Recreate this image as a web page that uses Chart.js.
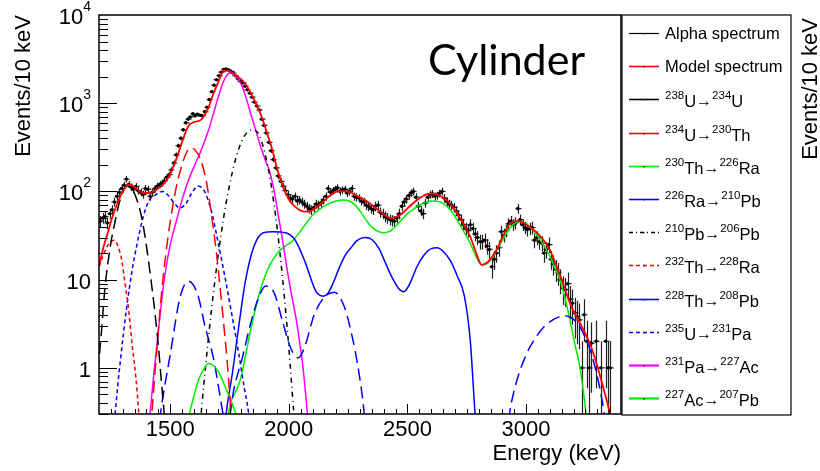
<!DOCTYPE html>
<html>
<head>
<meta charset="utf-8">
<title>Cylinder alpha spectrum</title>
<script src="https://cdn.jsdelivr.net/npm/chart.js@4.4.1/dist/chart.umd.min.js"></script>
<style>
  html, body { margin: 0; padding: 0; background: #fff; }
  canvas { display: block; }
</style>
</head>
<body>
<canvas id="spectrum" width="820" height="471"></canvas>
<script>
// measured spectrum: 10 keV bins, first bin centred at 1205 keV
const binStart = 1205;
const binWidth = 10;
const alphaCounts = [
  46, 50, 52, 44, 56, 62, 76, 88, 98, 108,
  118, 138, 120, 112, 106, 114, 102, 98, 92, 108,
  106, 88, 98, 108, 115, 120, 124, 132, 145, 155,
  175, 210, 260, 330, 400, 500, 600, 660, 700, 760,
  720, 750, 730, 720, 800, 900, 1100, 1350, 1600, 1850,
  2050, 2250, 2420, 2450, 2380, 2300, 2200, 2050, 1900, 1780,
  1700, 1560, 1420, 1300, 1170, 1030, 930, 840, 660, 560,
  460, 360, 290, 230, 185, 150, 130, 115, 102, 92,
  84, 82, 88, 78, 80, 76, 72, 68, 64, 62,
  66, 72, 70, 74, 80, 88, 108, 98, 102, 106,
  110, 100, 104, 106, 96, 100, 108, 88, 86, 84,
  78, 76, 70, 68, 64, 62, 68, 70, 58, 56,
  52, 50, 48, 47, 46, 50, 56, 68, 76, 82,
  90, 96, 100, 86, 68, 60, 56, 74, 86, 92,
  94, 88, 90, 95, 100, 84, 77, 72, 70, 66,
  60, 54, 48, 42, 38, 36, 42, 38, 33, 30,
  27, 27, 28, 24, 22, 14, 17, 20, 23, 35,
  32, 36, 43, 46, 42, 44, 64, 48, 42, 39,
  37, 38, 39, 28, 30, 27, 26, 20, 22, 25,
  17, 15, 13, 12, 10, 8, 7.7, 9, 6, 5.4,
  4.2, 3.8, 3.5, 1, 4, 2, 1, 1.9, null, 2,
  null, 1, null, 2, 1, 1
];

// fitted model and decay-chain components (keV, events / 10 keV)
const modelE = [1200, 1220, 1237, 1255, 1278, 1300, 1325, 1350, 1370, 1386,
  1410, 1440, 1468, 1490, 1508, 1530, 1549, 1576, 1600, 1631,
  1658, 1685, 1705, 1719, 1740, 1758, 1785, 1813, 1840, 1867,
  1890, 1908, 1930, 1948, 1975, 2003, 2030, 2055, 2085, 2110,
  2139, 2170, 2207, 2235, 2258, 2290, 2320, 2345, 2375, 2400,
  2425, 2450, 2480, 2510, 2540, 2570, 2595, 2625, 2651, 2680,
  2708, 2735, 2764, 2790, 2813, 2840, 2876, 2905, 2932, 2965,
  2995, 3030, 3060, 3100, 3125, 3150, 3190, 3220, 3245, 3275,
  3300, 3325, 3350, 3365];
const modelY = [14, 24, 34, 50, 74, 100, 119, 112, 101, 96,
  96, 104, 119, 140, 177, 250, 355, 548, 610, 653,
  850, 1350, 1800, 2214, 2350, 2250, 2000, 1706, 1300, 925,
  650, 461, 300, 192, 115, 79, 66, 60, 59, 64,
  74, 88, 100, 101, 98, 88, 80, 72, 62, 55,
  50, 51, 57, 68, 80, 90, 95, 92, 85, 72,
  57, 43, 31, 20, 14.7, 16, 21.8, 32, 43, 46,
  43, 37, 31, 21.8, 15, 10, 5, 3.5, 2.6, 1.7,
  1.05, 0.6, 0.33, 0.2];

const u238E = [1195, 1210, 1225, 1250, 1265, 1290, 1320, 1345, 1360, 1375, 1390, 1400, 1420, 1435, 1450, 1462, 1475, 1488];
const u238Y = [0.9, 2.5, 8, 26, 42, 82, 115, 100, 80, 58, 36, 24, 9.5, 4.4, 1.8, 0.75, 0.3, 0.1];

const u234E = [1405, 1420, 1440, 1460, 1480, 1500, 1525, 1550, 1570, 1588, 1605, 1625, 1650, 1670, 1695, 1720, 1740, 1757, 1770];
const u234Y = [0.08, 0.25, 1.2, 5.5, 18, 45, 110, 200, 280, 312, 295, 240, 140, 65, 20, 4.5, 1.2, 0.3, 0.1];

const th230E = [1565, 1581, 1600, 1622, 1645, 1662, 1685, 1709, 1735, 1757, 1780, 1800];
const th230Y = [0.18, 0.3, 0.48, 0.76, 1.0, 1.12, 1.05, 0.85, 0.58, 0.42, 0.28, 0.17];

const ra226E = [1720, 1736, 1763, 1790, 1817, 1851, 1892, 1932, 1986, 2027,
  2068, 2115, 2145, 2165, 2190, 2212, 2238, 2262, 2290, 2322,
  2350, 2378, 2405, 2432, 2462, 2485, 2510, 2540, 2570, 2600,
  2625, 2650, 2680, 2710, 2740, 2765, 2785, 2800];
const ra226Y = [0.1, 0.3, 0.9, 3.1, 9.6, 23, 34, 35, 34, 28,
  16, 7.3, 6.5, 7, 9.6, 13.5, 19, 23, 28, 30,
  28.5, 23, 16, 11, 8, 7.3, 9, 14, 19, 22.5,
  23, 21, 16.5, 11, 6.5, 2, 0.3, 0.1];

const pb210E = [1620, 1650, 1675, 1700, 1725, 1750, 1775, 1800, 1825, 1845, 1870, 1900, 1925, 1950, 1975, 2000, 2020];
const pb210Y = [0.15, 1.1, 4.8, 17, 50, 117, 229, 363, 470, 500, 460, 266, 120, 40, 9.5, 1.7, 0.33];

const th232E = [1200, 1215, 1235, 1250, 1265, 1280, 1295, 1310, 1325, 1340, 1355, 1368, 1380];
const th232Y = [14, 18, 24, 27, 28, 24, 17, 9, 4.5, 1.8, 0.8, 0.3, 0.1];

const th228E = [1440, 1459, 1500, 1541, 1577, 1615, 1649, 1682, 1709, 1723,
  1740, 1770, 1804, 1838, 1872, 1903, 1939, 1973, 2007, 2040,
  2066, 2107, 2147, 2192, 2233, 2265, 2295, 2318, 2332, 2600,
  2910, 2930, 2960, 3000, 3040, 3080, 3120, 3160, 3190, 3220,
  3250, 3280, 3310, 3330, 3345];
const th228Y = [0.1, 0.3, 1.4, 6.2, 9.6, 6.9, 2.8, 1.3, 0.5, 0.3,
  0.22, 0.6, 1.3, 3.1, 6.2, 8.5, 7.0, 3.4, 1.7, 1.3,
  1.7, 4.0, 6.2, 7.2, 5, 2.4, 0.9, 0.3, 0.1, null,
  0.1, 0.3, 0.7, 1.4, 2.2, 3.0, 3.6, 3.9, 3.7, 3.1,
  2.2, 1.3, 0.6, 0.3, 0.15];

const u235E = [1255, 1268, 1290, 1315, 1340, 1360, 1385, 1410, 1440, 1468, 1495, 1520, 1540,
  1565, 1590, 1617, 1645, 1675, 1700, 1730, 1760, 1790, 1812, 1831, 1845];
const u235Y = [0.1, 0.3, 1.2, 4.5, 13, 25, 50, 78, 92, 100, 88, 72, 65,
  72, 95, 115, 100, 58, 28, 11, 4, 1.4, 0.6, 0.3, 0.12];

const pa231E = [1400, 1415, 1430, 1450, 1475, 1500, 1525, 1550, 1575, 1600, 1630, 1660,
  1690, 1715, 1735, 1752, 1775, 1800, 1820, 1840, 1860, 1880, 1900, 1920,
  1940, 1955, 1970, 1985, 2000, 2015, 2030, 2045, 2060, 2075, 2090];
const pa231Y = [0.1, 0.3, 0.8, 2.6, 10, 25, 45, 80, 130, 190, 290, 480,
  900, 1500, 2000, 2200, 2050, 1630, 1150, 750, 500, 330, 230, 165,
  95, 55, 32, 18, 10, 6, 3.7, 2, 1.0, 0.38, 0.13];

const ac227E = [1730, 1745, 1757, 1778, 1797, 1818, 1838, 1858, 1878, 1900,
  1919, 1940, 1959, 1985, 2013, 2054, 2095, 2130, 2160, 2200,
  2230, 2255, 2280, 2310, 2340, 2370, 2400, 2430, 2460, 2500,
  2540, 2570, 2600, 2630, 2655, 2680, 2708, 2735, 2764, 2790,
  2813, 2840, 2862, 2890, 2918, 2945, 2972, 3000, 3030, 3060,
  3100, 3125, 3143, 3165, 3185, 3205, 3227, 3243, 3260];
const ac227Y = [0.2, 0.3, 0.42, 0.55, 0.76, 1.4, 2.6, 4.5, 7.3, 11,
  14.5, 18, 21, 24, 27, 37, 52, 63, 71, 78,
  80, 78, 70, 55, 42, 36, 34, 36, 43, 56,
  67, 74, 78, 77, 72, 62, 48, 36, 26, 18,
  14.7, 15.5, 18.5, 25, 34, 42, 45.5, 43, 36, 28,
  18.5, 13, 10, 6, 3.5, 1.9, 1.0, 0.5, 0.2];

const xTickValues = [1500, 2000, 2500, 3000];
const yTickValues = [1, 10, 100, 1000, 10000];
// [base, exponent] as printed on the axis
const yTickLabels = [['1', ''], ['10', ''], ['10', '2'], ['10', '3'], ['10', '4']];

const FONT = "'Liberation Sans', Arial, Helvetica, sans-serif";

const pts = (xs, ys) => xs.map((x, i) => ({ x, y: ys[i] }));
const alphaPoints = alphaCounts.map((c, i) => ({ x: binStart + i * binWidth, y: c }));

// legend order; dash = plot style, key = legend style, iso = [mass, element] pairs
const series = [
  { label: 'Model spectrum', data: pts(modelE, modelY), color: '#ff0000', width: 1.8, dash: [], key: [] },
  { label: '²³⁸U→²³⁴U', iso: [['238', 'U'], ['234', 'U']], data: pts(u238E, u238Y), color: '#000000', dash: [12, 6], key: [] },
  { label: '²³⁴U→²³⁰Th', iso: [['234', 'U'], ['230', 'Th']], data: pts(u234E, u234Y), color: '#ff0000', dash: [12, 6], key: [] },
  { label: '²³⁰Th→²²⁶Ra', iso: [['230', 'Th'], ['226', 'Ra']], data: pts(th230E, th230Y), color: '#00ee00', dash: [], key: [] },
  { label: '²²⁶Ra→²¹⁰Pb', iso: [['226', 'Ra'], ['210', 'Pb']], data: pts(ra226E, ra226Y), color: '#0000ff', dash: [], key: [] },
  { label: '²¹⁰Pb→²⁰⁶Pb', iso: [['210', 'Pb'], ['206', 'Pb']], data: pts(pb210E, pb210Y), color: '#000000', dash: [5, 4, 1, 4], key: [4, 3, 1, 3] },
  { label: '²³²Th→²²⁸Ra', iso: [['232', 'Th'], ['228', 'Ra']], data: pts(th232E, th232Y), color: '#ff0000', dash: [4, 3], key: [4, 3] },
  { label: '²²⁸Th→²⁰⁸Pb', iso: [['228', 'Th'], ['208', 'Pb']], data: pts(th228E, th228Y), color: '#0000ff', dash: [12, 6], key: [] },
  { label: '²³⁵U→²³¹Pa', iso: [['235', 'U'], ['231', 'Pa']], data: pts(u235E, u235Y), color: '#0000ff', dash: [4, 3], key: [4, 3] },
  { label: '²³¹Pa→²²⁷Ac', iso: [['231', 'Pa'], ['227', 'Ac']], data: pts(pa231E, pa231Y), color: '#ff00ff', dash: [], key: [], keyWidth: 2.2 },
  { label: '²²⁷Ac→²⁰⁷Pb', iso: [['227', 'Ac'], ['207', 'Pb']], data: pts(ac227E, ac227Y), color: '#00ee00', dash: [], key: [], keyWidth: 2.2 },
];

const legendItems = [{ label: 'Alpha spectrum', color: '#000000', key: [], keyWidth: 1.2 }].concat(series);

const datasets = series.map(s => ({
  label: s.label,
  data: s.data,
  borderColor: s.color,
  borderWidth: s.width || 1.5,
  borderDash: s.dash,
  pointRadius: 0,
  fill: false,
  spanGaps: false,
  cubicInterpolationMode: 'monotone',
}));
datasets.push({
  label: 'Alpha spectrum',
  data: alphaPoints,
  showLine: false,
  pointRadius: 1.7,
  pointBorderWidth: 0,
  pointBackgroundColor: '#000',
});

// sqrt(N) error bars under the data markers
const errorBars = {
  id: 'errorBars',
  beforeDatasetsDraw(chart) {
    const { ctx, chartArea: a, scales: { x, y } } = chart;
    ctx.save();
    ctx.beginPath();
    ctx.rect(a.left, a.top, a.width, a.height);
    ctx.clip();
    ctx.strokeStyle = '#222';
    ctx.lineWidth = 1.2;
    alphaPoints.forEach(p => {
      if (p.y == null) return;
      const err = Math.sqrt(p.y);
      const px = Math.round(x.getPixelForValue(p.x)) + 0.5;
      const lo = p.y - err > y.min ? y.getPixelForValue(p.y - err) : a.bottom;
      const hi = y.getPixelForValue(p.y + err);
      const py = y.getPixelForValue(p.y);
      ctx.beginPath();
      ctx.moveTo(px, lo);
      ctx.lineTo(px, hi);
      ctx.moveTo(px - 3, py);
      ctx.lineTo(px + 3, py);
      ctx.stroke();
    });
    ctx.restore();
  }
};

// ROOT-like frame with inward ticks and power-of-ten labels
const frame = {
  id: 'frame',
  afterDatasetsDraw(chart) {
    const { ctx, chartArea: a, scales: { x, y } } = chart;
    ctx.save();
    ctx.strokeStyle = '#000';
    ctx.lineWidth = 1;
    ctx.beginPath();
    for (let d = -1; d <= 3; d++) {
      for (let m = 1; m <= 9; m++) {
        const v = m * Math.pow(10, d);
        if (v < y.min || v > y.max) continue;
        const py = Math.round(y.getPixelForValue(v)) + 0.5;
        ctx.moveTo(a.left, py);
        ctx.lineTo(a.left + (m === 1 ? 18 : 9), py);
      }
    }
    for (let e = 1250; e < 3400; e += 50) {
      const px = Math.round(x.getPixelForValue(e)) + 0.5;
      ctx.moveTo(px, a.bottom);
      ctx.lineTo(px, a.bottom - (e % 500 === 0 ? 10 : 5));
    }
    ctx.stroke();
    ctx.lineWidth = 1.5;
    ctx.strokeRect(a.left, a.top, a.right - a.left, a.bottom - a.top);

    ctx.fillStyle = '#000';
    ctx.textBaseline = 'alphabetic';
    ctx.textAlign = 'left';
    yTickValues.forEach((v, i) => {
      const [base, exp] = yTickLabels[i];
      const py = y.getPixelForValue(v);
      ctx.font = `14px ${FONT}`;
      const ew = exp ? ctx.measureText(exp).width : 0;
      ctx.font = `22px ${FONT}`;
      const bw = ctx.measureText(base).width;
      const right = a.left - 8;
      ctx.fillText(base, right - ew - bw, py + 9);
      if (exp) {
        ctx.font = `14px ${FONT}`;
        ctx.fillText(exp, right - ew, py - 4);
      }
    });
    ctx.restore();
  }
};

function drawIsotopes(ctx, iso, x, baseline) {
  iso.forEach(([mass, el], i) => {
    if (i > 0) {
      ctx.font = `16px ${FONT}`;
      ctx.fillText('→', x, baseline - 1);
      x += ctx.measureText('→').width;
    }
    ctx.font = `11.5px ${FONT}`;
    ctx.fillText(mass, x, baseline - 8);
    x += ctx.measureText(mass).width;
    ctx.font = `16.5px ${FONT}`;
    ctx.fillText(el, x, baseline);
    x += ctx.measureText(el).width;
  });
}

const legendPanel = {
  id: 'legendPanel',
  afterDraw(chart) {
    const { ctx, chartArea: a } = chart;
    const left = a.right + 1;
    const top = a.top;
    ctx.save();
    ctx.strokeStyle = '#000';
    ctx.lineWidth = 1.2;
    ctx.strokeRect(left, top, 169, a.bottom - a.top + 1);

    ctx.textBaseline = 'alphabetic';
    ctx.textAlign = 'left';
    legendItems.forEach((it, i) => {
      const ly = Math.round(top + 18 + i * 33.2) + 0.5;
      ctx.strokeStyle = it.color;
      ctx.lineWidth = it.keyWidth || 1.6;
      ctx.setLineDash(it.key);
      ctx.beginPath();
      ctx.moveTo(left + 7, ly);
      ctx.lineTo(left + 37, ly);
      ctx.stroke();
      ctx.setLineDash([]);
      ctx.fillStyle = '#333';
      ctx.fillRect(left + 21, ly - 0.5, 1.5, 1.5);
      ctx.fillStyle = '#000';
      if (it.iso) {
        drawIsotopes(ctx, it.iso, left + 43, ly + 7);
      } else {
        ctx.font = `16.5px ${FONT}`;
        ctx.fillText(it.label, left + 43, ly + 5.5);
      }
    });

    // right-hand axis title beside the legend
    ctx.font = `22px ${FONT}`;
    ctx.textBaseline = 'middle';
    ctx.translate(811, a.top + 3);
    ctx.rotate(-Math.PI / 2);
    ctx.textAlign = 'right';
    ctx.fillText('Events/10 keV', 0, 0);
    ctx.restore();

    // panel label
    ctx.save();
    ctx.font = "40px Lato, 'Open Sans', sans-serif";
    const w = ctx.measureText('Cylinder').width;
    ctx.font = `${(40 * 157 / w).toFixed(1)}px Lato, 'Open Sans', sans-serif`;
    ctx.fillStyle = '#000';
    ctx.textBaseline = 'alphabetic';
    ctx.fillText('Cylinder', 428, 75);
    ctx.restore();
  }
};

new Chart(document.getElementById('spectrum'), {
  type: 'line',
  data: { datasets },
  options: {
    responsive: false,
    animation: false,
    events: [],
    layout: { padding: { left: 0, right: 199, top: 15, bottom: 0 } },
    plugins: {
      legend: { display: false },
      tooltip: { enabled: false },
      title: { display: false },
    },
    scales: {
      x: {
        type: 'linear',
        min: 1200,
        max: 3400,
        afterBuildTicks: s => { s.ticks = xTickValues.map(v => ({ value: v })); },
        afterFit: s => { s.height = 57; },
        grid: { display: false, drawTicks: false },
        border: { display: false },
        ticks: {
          color: '#000',
          font: { family: FONT, size: 22 },
          padding: 3,
          maxRotation: 0,
          autoSkip: false,
          callback: v => String(v),
        },
        title: {
          display: true,
          text: 'Energy (keV)',
          align: 'end',
          color: '#000',
          font: { family: FONT, size: 22 },
          padding: { top: 0, bottom: 4 },
        },
      },
      y: {
        type: 'logarithmic',
        min: 0.3,
        max: 10000,
        afterBuildTicks: s => { s.ticks = yTickValues.map(v => ({ value: v })); },
        afterFit: s => { s.width = 99; },
        grid: { display: false, drawTicks: false },
        border: { display: false },
        ticks: { display: false },
        title: {
          display: true,
          text: 'Events/10 keV',
          align: 'end',
          color: '#000',
          font: { family: FONT, size: 22 },
          padding: { top: 11, bottom: 0 },
        },
      },
    },
  },
  plugins: [errorBars, frame, legendPanel],
});
</script>
</body>
</html>
